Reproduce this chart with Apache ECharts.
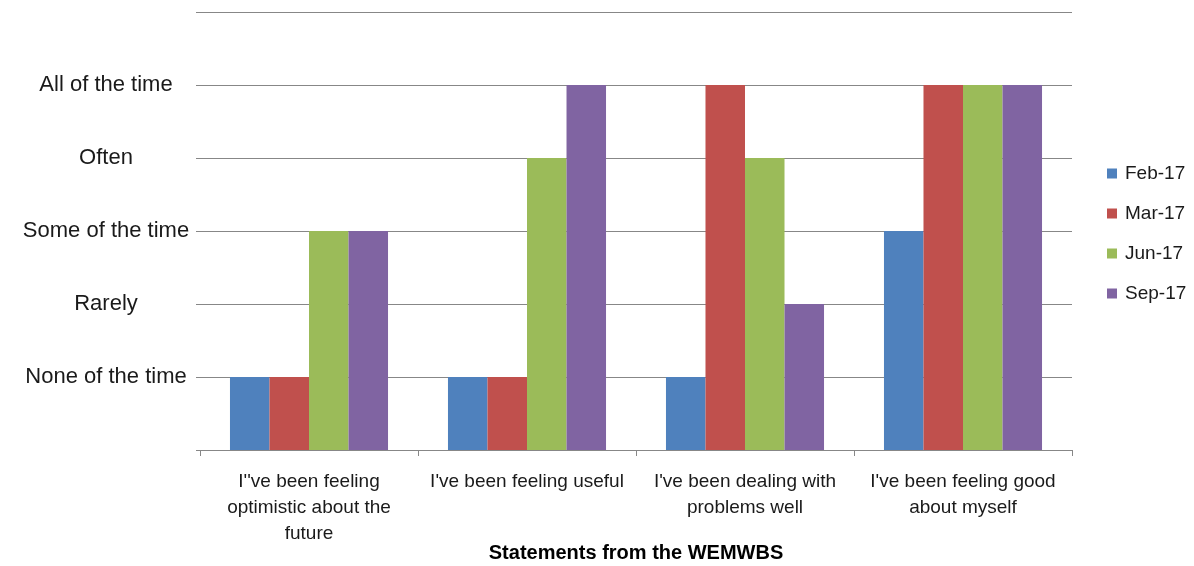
<!DOCTYPE html>
<html>
<head>
<meta charset="utf-8">
<script src="https://cdn.jsdelivr.net/npm/echarts@6/dist/echarts.min.js"></script>
<style>
html,body{margin:0;padding:0;background:#fff;}
#chart{width:1194px;height:566px;}
</style>
</head>
<body>
<div id="chart"></div>
<script>
var categories = [
  "I''ve been feeling\noptimistic about the\nfuture",
  "I've been feeling useful",
  "I've been dealing with\nproblems well",
  "I've been feeling good\nabout myself"
];
var seriesNames = ["Feb-17", "Mar-17", "Jun-17", "Sep-17"];
var feb17 = [1, 1, 1, 3];
var mar17 = [1, 1, 5, 5];
var jun17 = [3, 4, 4, 5];
var sep17 = [3, 5, 2, 5];
var yTickLabels = ["", "None of the time", "Rarely", "Some of the time", "Often", "All of the time", ""];
var colors = ["#4F81BD", "#C0504D", "#9BBB59", "#8064A2"];
var xTitle = "Statements from the WEMWBS";

var FONT = "Liberation Sans";
var chart = echarts.init(document.getElementById('chart'), null, {renderer: 'canvas'});
var values = [feb17, mar17, jun17, sep17];
var series = seriesNames.map(function (n, i) {
  return {
    name: n,
    type: 'bar',
    data: values[i],
    barGap: '0%',
    barCategoryGap: '27.5%',
    itemStyle: {color: colors[i]}
  };
});
chart.setOption({
  animation: false,
  color: colors,
  grid: {left: 200, right: 122, top: 12, bottom: 116, containLabel: false, outerBoundsMode: 'none'},
  legend: {
    orient: 'vertical',
    left: 1102,
    top: 159,
    itemWidth: 10,
    itemHeight: 10,
    itemGap: 21,
    icon: 'rect',
    textStyle: {fontFamily: FONT, fontSize: 19, color: '#1a1a1a', padding: [0, 0, 0, 3]},
    data: seriesNames
  },
  xAxis: {
    type: 'category',
    data: categories,
    name: xTitle,
    nameLocation: 'middle',
    nameGap: 93,
    nameMoveOverlap: false,
    nameTextStyle: {fontFamily: FONT, fontSize: 20, fontWeight: 'bold', color: '#000'},
    axisLine: {show: true, lineStyle: {color: '#878787', width: 1}},
    axisTick: {show: true, length: 6, lineStyle: {color: '#878787'}},
    axisLabel: {fontFamily: FONT, fontSize: 19, color: '#1a1a1a', lineHeight: 26, margin: 19, interval: 0}
  },
  yAxis: {
    type: 'value',
    min: 0,
    max: 6,
    interval: 1,
    axisLine: {show: false},
    axisTick: {show: true, length: 4, lineStyle: {color: '#878787'}},
    splitLine: {show: true, lineStyle: {color: '#878787', width: 1}},
    axisLabel: {
      fontFamily: FONT, fontSize: 22, color: '#1a1a1a',
      align: 'center', margin: 94,
      formatter: function (v) { return yTickLabels[Math.round(v)] || ''; }
    }
  },
  series: series
});
</script>
</body>
</html>
